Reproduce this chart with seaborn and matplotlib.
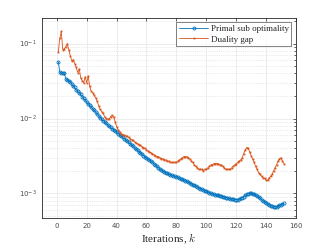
import numpy as np
import pandas as pd
import matplotlib
matplotlib.use("Agg")
import matplotlib.pyplot as plt
import matplotlib.ticker as mticker
import seaborn as sns

iterations = list(range(1, 153))

primal_subopt = [
    0.057, 0.042, 0.040, 0.041, 0.040, 0.034, 0.033, 0.032, 0.031, 0.029,
    0.027, 0.026, 0.024, 0.023, 0.022, 0.021, 0.0195, 0.0185, 0.0175, 0.0165,
    0.0158, 0.0150, 0.0142, 0.0134, 0.0128, 0.0122, 0.0115, 0.0109, 0.0103, 0.0098,
    0.0094, 0.0090, 0.0086, 0.0082, 0.0079, 0.0076, 0.0073, 0.0071, 0.0069, 0.0066,
    0.0063, 0.0061, 0.0058, 0.0056, 0.0054, 0.0052, 0.0050, 0.0048, 0.0046, 0.0044,
    0.0043, 0.0041, 0.0039, 0.0038, 0.0036, 0.0035, 0.0034, 0.0032, 0.0031, 0.0030,
    0.0029, 0.0028, 0.0027, 0.0026, 0.0025, 0.0024, 0.0023, 0.0022, 0.0021, 0.00205,
    0.0020, 0.00195, 0.0019, 0.00185, 0.0018, 0.00178, 0.00175, 0.00172, 0.0017, 0.00167,
    0.00164, 0.0016, 0.00157, 0.00154, 0.00151, 0.00148, 0.00145, 0.00142, 0.00139, 0.00135,
    0.00131, 0.00128, 0.00125, 0.00122, 0.00119, 0.00116, 0.00114, 0.00111, 0.00109, 0.00107,
    0.00105, 0.00103, 0.00101, 0.00099, 0.00098, 0.00096, 0.00095, 0.00094, 0.00093, 0.00092,
    0.00090, 0.00089, 0.00088, 0.00087, 0.00086, 0.00085, 0.00084, 0.00084, 0.00083, 0.00083,
    0.00083, 0.00084, 0.00086, 0.00088, 0.00091, 0.00094, 0.00097, 0.00099, 0.00100, 0.00100,
    0.00099, 0.00097, 0.00095, 0.00092, 0.00089, 0.00086, 0.00083, 0.00080, 0.00078, 0.00075,
    0.00073, 0.00071, 0.00069, 0.00068, 0.00067, 0.00066, 0.00067, 0.00068, 0.00070, 0.00071,
    0.00073, 0.00074,
]

duality_gap = [
    0.078, 0.117, 0.145, 0.083, 0.085, 0.091, 0.100, 0.083, 0.069, 0.059,
    0.061, 0.054, 0.048, 0.041, 0.046, 0.035, 0.032, 0.030, 0.036, 0.030,
    0.037, 0.027, 0.023, 0.022, 0.0203, 0.019, 0.0169, 0.0149, 0.0132, 0.0124,
    0.0117, 0.0106, 0.0100, 0.0099, 0.0098, 0.0106, 0.0110, 0.0106, 0.0091, 0.0078,
    0.0071, 0.0067, 0.0063, 0.0061, 0.0060, 0.0059, 0.0058, 0.0056, 0.0054, 0.0052,
    0.0051, 0.0049, 0.0047, 0.0046, 0.0045, 0.0044, 0.0042, 0.0041, 0.0040, 0.0038,
    0.0037, 0.0036, 0.0035, 0.0034, 0.0033, 0.0032, 0.0031, 0.0031, 0.0030, 0.0029,
    0.0029, 0.0028, 0.0028, 0.0027, 0.0027, 0.0026, 0.0026, 0.0026, 0.0026, 0.0026,
    0.0027, 0.0028, 0.0029, 0.0030, 0.0031, 0.0031, 0.0031, 0.0030, 0.0029, 0.0027,
    0.0026, 0.0024, 0.0023, 0.0022, 0.0021, 0.0021, 0.0021, 0.0020, 0.0021, 0.0021,
    0.0022, 0.0023, 0.0024, 0.0024, 0.0025, 0.0025, 0.0025, 0.0025, 0.0024, 0.0024,
    0.0023, 0.0022, 0.0021, 0.0021, 0.0021, 0.0021, 0.0022, 0.0023, 0.0024, 0.0025,
    0.0026, 0.0027, 0.0028, 0.0030, 0.0034, 0.0038, 0.0041, 0.0040, 0.0036, 0.0032,
    0.0029, 0.0026, 0.0023, 0.0021, 0.0019, 0.0018, 0.0017, 0.0016, 0.0016, 0.0015,
    0.0015, 0.0016, 0.0017, 0.0018, 0.0020, 0.0022, 0.0024, 0.0027, 0.0029, 0.0030,
    0.0027, 0.0025,
]

x_ticks = [0, 20, 40, 60, 80, 100, 120, 140, 160]

blue = "#0072BD"
orange = "#D95319"

sns.set_style("white")
plt.rcParams["font.family"] = ["DejaVu Sans"]
plt.rcParams["mathtext.fontset"] = "cm"

fig = plt.figure(figsize=(3.27, 2.45), dpi=100)
ax = fig.add_axes([0.128, 0.110, 0.777, 0.817])

sns.lineplot(x=iterations, y=primal_subopt, ax=ax, color=blue, lw=0.6,
             marker="o", markersize=2.2, markerfacecolor="none",
             markeredgecolor=blue, markeredgewidth=0.6,
             label="Primal sub optimality")
sns.lineplot(x=iterations, y=duality_gap, ax=ax, color=orange, lw=0.6,
             marker="s", markersize=1.3, markeredgewidth=0,
             label="Duality gap")

ax.set_yscale("log")
ax.set_xlim(-10, 160)
ax.set_ylim(4.7e-4, 0.22)
ax.set_xticks(x_ticks)
ax.yaxis.set_major_locator(mticker.LogLocator(base=10, numticks=10))
ax.yaxis.set_minor_locator(mticker.LogLocator(base=10, subs=np.arange(2, 10), numticks=10))
ax.yaxis.set_minor_formatter(mticker.NullFormatter())

ax.grid(True, which="major", color="#e6e6e6", lw=0.5, ls="-")
ax.grid(True, which="minor", axis="y", color="#d9d9d9", lw=0.5, ls=":")
ax.set_axisbelow(True)

ax.tick_params(which="both", direction="in", top=True, right=True,
               labelsize=5, colors="#262626", width=0.5, length=2.5,
               labelcolor="#4d4d4d")
ax.tick_params(which="minor", length=1.5)
for s in ax.spines.values():
    s.set_color("#262626")
    s.set_linewidth(0.6)

ax.set_xlabel("Iterations, $k$", fontsize=8, family="Liberation Serif", labelpad=2)

leg = ax.legend(loc="upper right", fontsize=6, frameon=True, fancybox=False,
                edgecolor="#262626", borderpad=0.3, labelspacing=0.2,
                handlelength=3.2, handletextpad=0.3, borderaxespad=0.5,
                prop={"family": "Liberation Serif", "size": 6.5})
leg.get_frame().set_linewidth(0.5)

fig.savefig("out.png", dpi=100)
